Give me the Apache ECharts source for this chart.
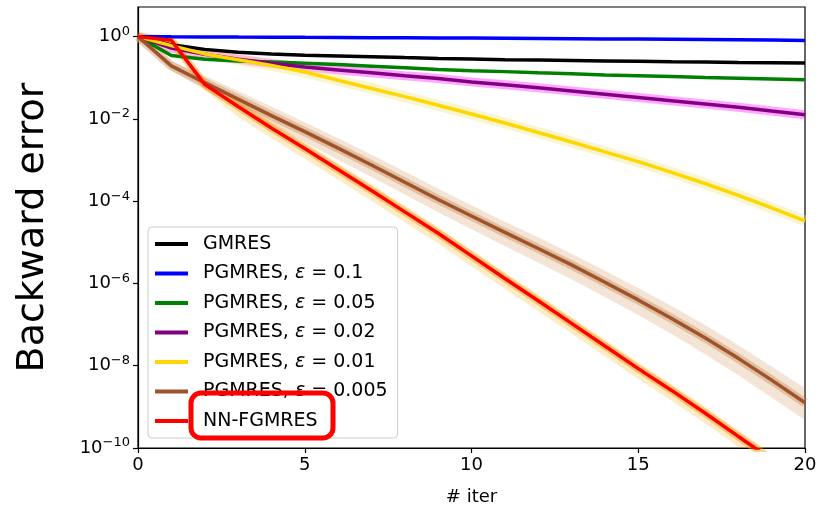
<!DOCTYPE html>
<html>
<head>
<meta charset="utf-8">
<script src="https://cdn.jsdelivr.net/npm/echarts@6/dist/echarts.min.js"></script>
<style>
  html, body { margin: 0; padding: 0; background: #fff; }
  #chart { width: 821px; height: 511px; }
</style>
</head>
<body>
<div id="chart"></div>
<script>
// iteration index
const iters = [0, 1, 2, 3, 4, 5, 6, 7, 8, 9, 10, 11, 12, 13, 14, 15, 16, 17, 18, 19, 20];

// backward error per iteration
const gmres = [1, 0.631, 0.490, 0.417, 0.380, 0.355, 0.339, 0.324, 0.309, 0.295, 0.285,
  0.275, 0.269, 0.263, 0.257, 0.251, 0.245, 0.240, 0.234, 0.232, 0.229];
const pgmres01 = [1, 0.99, 0.985, 0.975, 0.97, 0.96, 0.955, 0.945, 0.94, 0.93, 0.92,
  0.91, 0.90, 0.89, 0.88, 0.87, 0.86, 0.85, 0.84, 0.825, 0.81];
const pgmres005 = [1, 0.347, 0.282, 0.257, 0.240, 0.224, 0.209, 0.191, 0.174, 0.158, 0.148,
  0.141, 0.132, 0.126, 0.117, 0.112, 0.107, 0.102, 0.0977, 0.0933, 0.0891];
const pgmres002 = [1, 0.525, 0.372, 0.282, 0.224, 0.182, 0.155, 0.132, 0.112, 0.0955, 0.0794,
  0.0676, 0.0575, 0.0479, 0.0398, 0.0331, 0.0275, 0.0229, 0.0191, 0.0155, 0.0126];
const pgmres001 = [1, 0.603, 0.380, 0.275, 0.200, 0.138, 0.0871, 0.0550, 0.0347, 0.0214, 0.0132,
  7.94e-3, 4.68e-3, 2.75e-3, 1.58e-3, 9.12e-4, 5.01e-4, 2.69e-4, 1.38e-4, 6.92e-5, 3.31e-5];
const pgmres0005 = [1, 0.195, 0.0759, 0.0302, 0.0120, 4.90e-3, 1.95e-3, 7.59e-4, 2.88e-4, 1.10e-4, 4.37e-5,
  1.74e-5, 7.08e-6, 2.82e-6, 1.07e-6, 3.98e-7, 1.41e-7, 4.79e-8, 1.51e-8, 4.47e-9, 1.26e-9];
const nnfgmres = [1, 0.813, 0.0692, 0.0200, 6.03e-3, 1.91e-3, 5.89e-4, 1.82e-4, 5.50e-5, 1.66e-5, 4.68e-6,
  1.32e-6, 3.80e-7, 1.07e-7, 3.02e-8, 8.51e-9, 2.51e-9, 7.08e-10, 1.91e-10, 5.25e-11, 1.41e-11];

// spread of the individual runs (upper / lower edge of the faint bands)
const brownUpper = [1, 0.251, 0.112, 0.0479, 0.0200, 8.32e-3, 3.39e-3, 1.35e-3, 5.25e-4, 2.00e-4, 7.94e-5,
  3.16e-5, 1.32e-5, 5.25e-6, 2.04e-6, 7.76e-7, 2.82e-7, 9.77e-8, 3.16e-8, 9.55e-9, 2.82e-9];
const brownLower = [1, 0.151, 0.0501, 0.0182, 6.92e-3, 2.69e-3, 1.02e-3, 3.89e-4, 1.45e-4, 5.37e-5, 2.09e-5,
  8.13e-6, 3.24e-6, 1.26e-6, 4.68e-7, 1.70e-7, 5.89e-8, 1.91e-8, 5.89e-9, 1.70e-9, 4.79e-10];
const orangeUpper = [1, 0.85, 0.0891, 0.0282, 8.51e-3, 2.69e-3, 8.32e-4, 2.57e-4, 7.76e-5, 2.34e-5, 6.61e-6,
  1.86e-6, 5.37e-7, 1.51e-7, 4.27e-8, 1.20e-8, 3.55e-9, 1.00e-9, 2.69e-10, 7.41e-11, 2.00e-11];
const orangeLower = [1, 0.78, 0.0501, 0.0112, 3.39e-3, 1.07e-3, 3.31e-4, 1.02e-4, 3.09e-5, 9.33e-6, 2.63e-6,
  7.41e-7, 2.14e-7, 6.03e-8, 1.70e-8, 4.79e-9, 1.41e-9, 3.98e-10, 1.07e-10, 2.95e-11, 7.94e-12];

const yTicks = [1e-10, 1e-8, 1e-6, 1e-4, 1e-2, 1];

const FONT = 'DejaVu Sans';

function pairs(vals) {
  return iters.map((x, i) => [x, vals[i]]);
}

function mainLine(name, vals, color, z) {
  return {
    name: name, type: 'line', data: pairs(vals), showSymbol: false, symbol: 'none',
    lineStyle: { color: color, width: 3.5 }, itemStyle: { color: color },
    z: z, clip: true
  };
}

function halo(vals, color, width, opacity) {
  return {
    name: 'halo', type: 'line', data: pairs(vals), showSymbol: false, symbol: 'none',
    silent: true, lineStyle: { color: color, width: width, opacity: opacity }, z: 2, clip: true
  };
}

function band(upper, lower, color, opacity) {
  return {
    name: 'band', type: 'custom', silent: true, clip: true, z: 1,
    data: [[0, 1]],
    renderItem: function (params, api) {
      let pts = [];
      for (let i = 0; i < iters.length; i++) pts.push(api.coord([iters[i], upper[i]]));
      for (let i = iters.length - 1; i >= 0; i--) pts.push(api.coord([iters[i], lower[i]]));
      return { type: 'polygon', shape: { points: pts }, style: { fill: color, opacity: opacity } };
    }
  };
}

const chart = echarts.init(document.getElementById('chart'), null, { renderer: 'canvas' });

const option = {
  animation: false,
  backgroundColor: '#fff',
  textStyle: { fontFamily: FONT },
  grid: {
    left: 138, right: 16, top: 7, bottom: 61,
    show: true, borderColor: '#000', borderWidth: 1.2, backgroundColor: 'transparent'
  },
  xAxis: {
    type: 'value', min: 0, max: 20, interval: 5,
    name: '# iter', nameLocation: 'middle', nameGap: 40,
    nameTextStyle: { fontSize: 18, color: '#000', fontFamily: FONT },
    axisLine: { lineStyle: { color: '#000', width: 1.2 } },
    axisTick: { inside: false, length: 5, lineStyle: { color: '#000', width: 1.2 } },
    axisLabel: { fontSize: 18, color: '#000', margin: 8, fontFamily: FONT },
    splitLine: { show: false }
  },
  yAxis: {
    type: 'log', logBase: 10, min: 1e-10, max: 5.25,
    name: 'Backward error', nameLocation: 'middle', nameRotate: 90, nameGap: 86,
    nameTextStyle: { fontSize: 38, color: '#000', fontFamily: FONT },
    axisLine: { lineStyle: { color: '#000', width: 1.2 } },
    axisTick: { inside: false, length: 5, customValues: yTicks, lineStyle: { color: '#000', width: 1.2 } },
    axisLabel: {
      customValues: yTicks, margin: 8, color: '#000',
      formatter: function (v) {
        const e = Math.round(Math.log10(v));
        return '{b|10}{s|' + (e < 0 ? '\u2212' + (-e) : e) + '}';
      },
      rich: {
        b: { fontSize: 18, fontFamily: FONT, color: '#000' },
        s: { fontSize: 13, fontFamily: FONT, color: '#000', padding: [0, 0, 10, 0] }
      }
    },
    splitLine: { show: false },
    minorTick: { show: false }
  },
  legend: {
    orient: 'vertical', left: 148, top: 227,
    data: ['GMRES', 'PGMRES, ε = 0.1', 'PGMRES, ε = 0.05', 'PGMRES, ε = 0.02',
      'PGMRES, ε = 0.01', 'PGMRES, ε = 0.005', 'NN-FGMRES'],
    icon: 'rect', itemWidth: 33, itemHeight: 4, itemGap: 9.5,
    padding: [7, 10, 7, 7],
    backgroundColor: 'rgba(255,255,255,0.8)', borderColor: '#cccccc', borderWidth: 1, borderRadius: 4,
    textStyle: {
      fontSize: 19, color: '#000', fontFamily: FONT, lineHeight: 20, padding: [0, 0, 0, 10],
      rich: { i: { fontSize: 19, fontStyle: 'italic', fontFamily: FONT, color: '#000' } }
    },
    formatter: function (name) { return name.replace('ε', '{i|ε}'); },
    selectedMode: false
  },
  graphic: [{
    type: 'rect', z: 100,
    shape: { x: 191, y: 393, width: 142, height: 45, r: 10 },
    style: { fill: 'none', stroke: '#ff0000', lineWidth: 5 }
  }],
  series: [
    band(brownUpper, brownLower, '#cd853f', 0.22),
    band(orangeUpper, orangeLower, '#ffa500', 0.22),
    halo(pgmres002, '#ff00ff', 9, 0.35),
    halo(pgmres001, '#f0e68c', 11, 0.4),
    halo(pgmres0005, '#c8864a', 9, 0.4),
    halo(nnfgmres, '#ff9900', 8, 0.45),
    mainLine('GMRES', gmres, '#000000', 3),
    mainLine('PGMRES, ε = 0.1', pgmres01, '#0000ff', 3),
    mainLine('PGMRES, ε = 0.05', pgmres005, '#008000', 3),
    mainLine('PGMRES, ε = 0.02', pgmres002, '#800080', 3),
    mainLine('PGMRES, ε = 0.01', pgmres001, '#ffd700', 3),
    mainLine('PGMRES, ε = 0.005', pgmres0005, '#a0522d', 3),
    mainLine('NN-FGMRES', nnfgmres, '#ff0000', 3)
  ]
};

chart.setOption(option);
</script>
</body>
</html>
